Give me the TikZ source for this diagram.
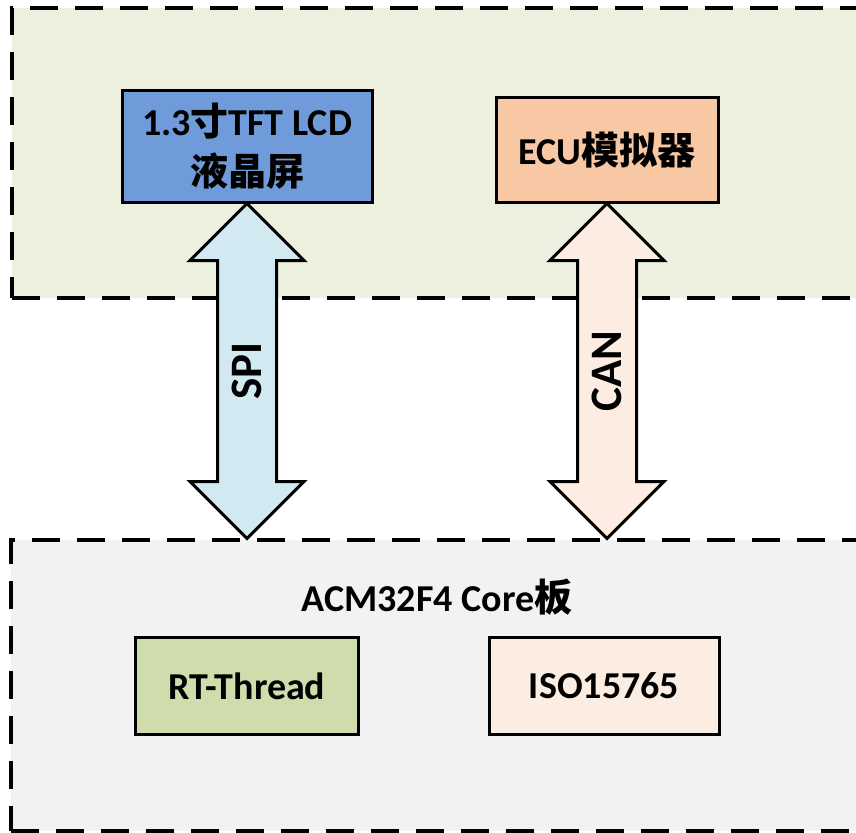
\documentclass[tikz,border=0pt]{standalone}
\usepackage{fontspec}
\setmainfont{Carlito}
\newfontfamily\cjk{Noto Sans CJK SC}
\newcommand{\zh}[1]{{\cjk #1}}
\usetikzlibrary{calc}
\usetikzlibrary{shapes.arrows}
\definecolor{dispgreen}{HTML}{EBF0DF}
\definecolor{coregray}{HTML}{F2F2F2}
\definecolor{lcdblue}{HTML}{6F9BDA}
\definecolor{ecuorange}{HTML}{F8C8A4}
\definecolor{spiblue}{HTML}{D3E9F1}
\definecolor{canpeach}{HTML}{FCECE1}
\definecolor{rtgreen}{HTML}{CFDCAB}
\definecolor{isopeach}{HTML}{FCEDE2}

\begin{document}
\begin{tikzpicture}[x=1pt, y=-1pt,
		panel/.style={draw, line width=4pt, dash pattern=on 28pt off 17pt, inner sep=0pt, outer sep=0pt},
		block/.style={draw, line width=3pt, inner sep=0pt, outer sep=0pt, align=center, font=\bfseries\fontsize{38}{50}\selectfont},
		bus/.style={draw, line width=3pt, double arrow, rotate=90, double arrow head extend=27.5pt, minimum height=335pt, inner xsep=0pt, inner ysep=13.5pt, text height=29pt, text depth=0pt, font=\bfseries\fontsize{45}{45}\selectfont}]
			\useasboundingbox (0,0) rectangle (856,832);
			\clip (0,0) rectangle (856,832);
			% the two dashed panels
			\node[panel, fill=dispgreen, minimum width=868pt, minimum height=290pt] (disp) at (446,153) {};
			\node[panel, fill=coregray, minimum width=869pt, minimum height=291pt] (core) at (445.5,685.5) {};
			% blocks
			\node[block, fill=lcdblue, minimum width=250pt, minimum height=111pt] (lcd) at (247,146.5) {1.3\zh{寸}TFT LCD\\\zh{液晶屏}};
			\node[block, fill=ecuorange, minimum width=222pt, minimum height=104pt] (ecu) at (607,150) {ECU\zh{模拟器}};
			\node[font=\bfseries\fontsize{38}{50}\selectfont] (coretitle) at (437,597) {ACM32F4 Core\zh{板}};
			\node[block, fill=rtgreen, minimum width=223pt, minimum height=97pt] (rtt) at (247,686) {RT-Thread};
			\node[block, fill=isopeach, minimum width=230pt, minimum height=97pt] (iso) at (604,686) {ISO15765};
			% buses
			\node[bus, fill=spiblue] (spi) at ($(lcd.south)!0.5!(lcd.south |- core.north)$) {SPI};
			\node[bus, fill=canpeach] (can) at ($(ecu.south)!0.5!(ecu.south |- core.north)$) {CAN};
		\end{tikzpicture}
\end{document}
